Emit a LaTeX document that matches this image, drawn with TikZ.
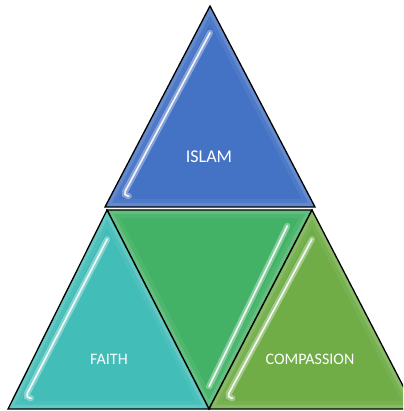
\documentclass[tikz,border=0pt]{standalone}
\usepackage{fontspec}
\setmainfont{Carlito}
\usetikzlibrary{calc}
\definecolor{cblue}{HTML}{4472C4}
\definecolor{cteal}{HTML}{42BDB8}
\definecolor{cmid}{HTML}{43B266}
\definecolor{cright}{HTML}{70AD47}
\newcommand\gtri[2]{%
  \coordinate (#1G) at (barycentric cs:#1a=1,#1b=1,#1c=1);
  \begin{scope}
    \clip (#1a)--(#1b)--(#1c)--cycle;
    \fill[#2] (#1a)--(#1b)--(#1c)--cycle;
    \draw[white,opacity=0.12,line width=8pt] (#1a)--(#1b)--(#1c)--cycle;
    \draw[white,opacity=0.06,line width=16pt] (#1a)--(#1b)--(#1c)--cycle;
  \end{scope}
}
\begin{document}
\begin{tikzpicture}[x=1pt,y=1pt,
  tri/.style={draw=black,line width=1.3pt,line join=miter},
  glow/.style={white,opacity=0.35,line width=6pt,line cap=round,rounded corners=5pt},
  shine/.style={white,opacity=0.9,line width=1.6pt,line cap=round,rounded corners=5pt},
  lbl/.style={text=white,font=\fontsize{16}{18}\selectfont}]
\useasboundingbox (0,0) rectangle (403,411);
\clip (0,0) rectangle (403,411);
% coordinates
\coordinate (Ta) at (210,405); \coordinate (Tb) at (105,204); \coordinate (Tc) at (315,204);
\coordinate (La) at (107,201); \coordinate (Lb) at (8,2);     \coordinate (Lc) at (209,2);
\coordinate (Ma) at (312,201); \coordinate (Mb) at (209,2);   \coordinate (Mc) at (107,201);
\coordinate (Ra) at (312,201); \coordinate (Rb) at (209,2);   \coordinate (Rc) at (415,2);
% middle (inverted)
\gtri{M}{cmid}
\draw[glow] ($(Ma)!0.24!(MG)$) -- ($(Mb)!0.17!(MG)$);
\draw[shine] ($(Ma)!0.24!(MG)$) -- ($(Mb)!0.17!(MG)$);
\draw[tri] (Ma)--(Mb)--(Mc)--cycle;
% left
\gtri{L}{cteal}
\draw[glow] ($(La)!0.22!(LG)$) -- ($(Lb)!0.17!(LG)$) -- ++(6,-0.5);
\draw[shine] ($(La)!0.22!(LG)$) -- ($(Lb)!0.17!(LG)$) -- ++(6,-0.5);
\draw[tri] (La)--(Lb)--(Lc)--cycle;
% right
\gtri{R}{cright}
\draw[glow] ($(Ra)!0.22!(RG)$) -- ($(Rb)!0.17!(RG)$) -- ++(6,-0.5);
\draw[shine] ($(Ra)!0.22!(RG)$) -- ($(Rb)!0.17!(RG)$) -- ++(6,-0.5);
\draw[tri] (Ra)--(Rb)--(Rc)--cycle;
% top
\gtri{T}{cblue}
\draw[glow] ($(Ta)!0.2!(TG)$) -- ($(Tb)!0.17!(TG)$) -- ++(6,-0.5);
\draw[shine] ($(Ta)!0.2!(TG)$) -- ($(Tb)!0.17!(TG)$) -- ++(6,-0.5);
\draw[tri] (Ta)--(Tb)--(Tc)--cycle;
% labels
\node[lbl,font=\fontsize{18}{20}\selectfont] (islam) at (209,254) {ISLAM};
\node[lbl] (faith) at (109,52) {FAITH};
\node[lbl] (comp) at (310,52) {COMPASSION};
\end{tikzpicture}
\end{document}
